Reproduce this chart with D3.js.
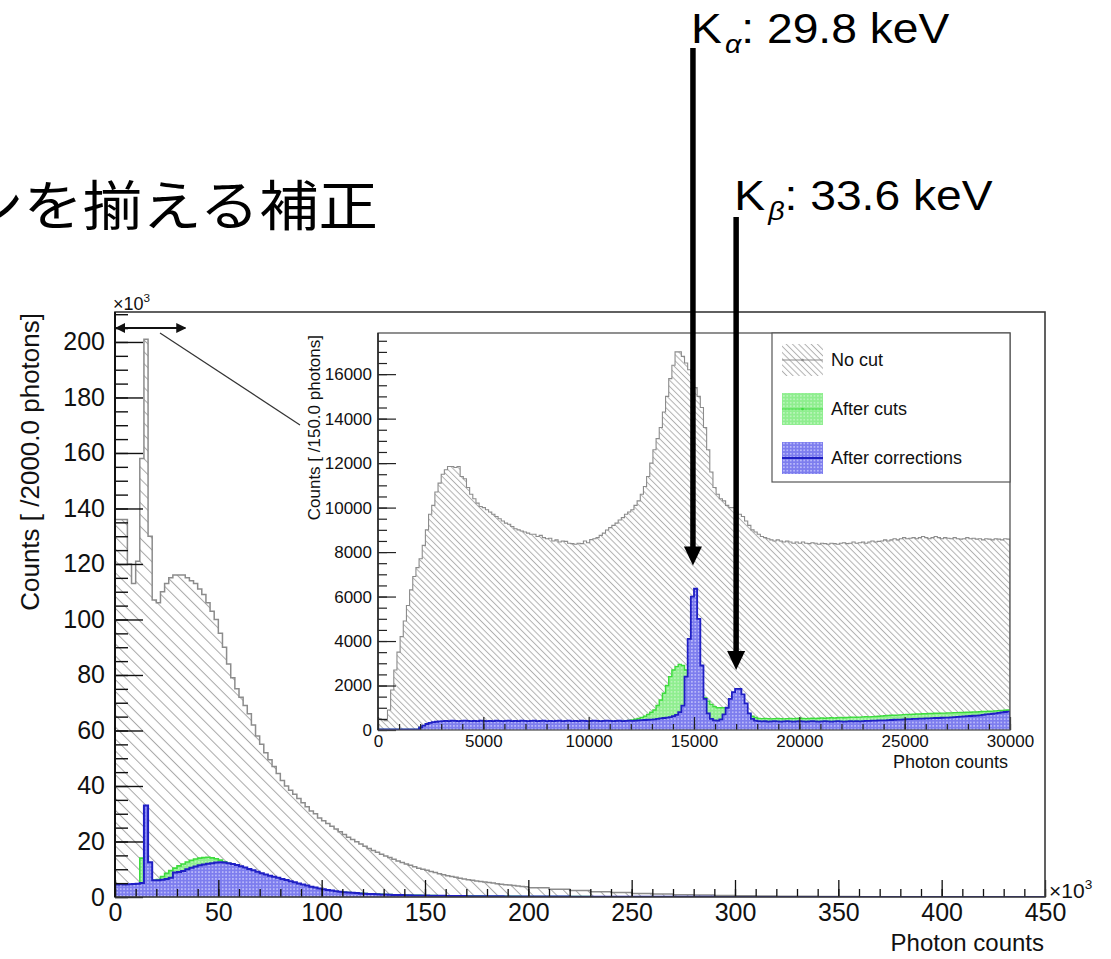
<!DOCTYPE html>
<html>
<head>
<meta charset="utf-8">
<script src="https://cdn.jsdelivr.net/npm/d3@7"></script>
<style>
  body { margin: 0; background: #fff; }
  svg { display: block; }
</style>
</head>
<body>
<svg id="chart" width="1111" height="959"></svg>
<script>
// ---- Daten ----
// Hauptplot: Bins zu 2000 Photonen (x in 10^3), 0-200k fein, 200-450k grob (10k)
const mainFineWidth = 2;
const mainNoCutFine = [
  136,136,136,120,113,121,158,201,130,107,
  106,110,113,115,116,116,116,115,114,113,
  111,109,106,103,100,95,90,84,79,75,
  72,69,66,62,58,55,52,49.5,47,44.5,
  42,40,38.5,37,35.5,34,32.5,31,30,28.5,
  27.5,26.5,25.5,24.5,23.5,22.5,21.5,20.7,19.9,19.1,
  18.3,17.5,16.8,16.1,15.4,14.8,14.2,13.6,13.0,12.4,
  11.9,11.4,10.9,10.4,10.0,9.6,9.2,8.8,8.4,8.0,
  7.7,7.4,7.1,6.8,6.5,6.2,6.0,5.8,5.6,5.4,
  5.2,5.0,4.8,4.6,4.4,4.3,4.1,4.0,3.8,3.7
];
const mainAfterCutsFine = [
  4.3,4.4,4.3,4.4,4.5,4.6,14,14.5,12,6,
  6.3,7.4,8.5,9.5,10.4,11.2,11.9,12.6,13.2,13.7,
  14.0,14.2,14.3,14.1,13.8,13.3,12.7,12.1,11.5,11.0,
  10.4,9.9,9.4,8.9,8.4,7.9,7.5,7.0,6.6,6.2,
  5.8,5.4,5.1,4.7,4.4,4.0,3.7,3.4,3.1,2.8,
  2.6,2.4,2.2,2.0,1.85,1.7,1.6,1.5,1.4,1.3,
  1.22,1.15,1.08,1.02,0.96,0.9,0.85,0.8,0.76,0.72,
  0.68,0.65,0.62,0.59,0.56,0.53,0.5,0.48,0.46,0.44,
  0.42,0.4,0.38,0.37,0.35,0.34,0.32,0.31,0.3,0.29,
  0.28,0.27,0.26,0.25,0.24,0.23,0.22,0.21,0.2,0.2
];
const mainAfterCorrFine = [
  4.5,4.6,4.5,4.6,4.7,4.8,5.0,33,12.5,6.0,
  6.0,6.2,6.5,6.9,8.8,9.0,9.4,10.0,10.5,11.0,
  11.4,11.7,12.0,12.2,12.4,12.5,12.4,12.2,11.9,11.5,
  11.1,10.6,10.1,9.6,9.1,8.6,8.1,7.7,7.3,6.9,
  6.5,6.1,5.7,5.3,4.9,4.5,4.1,3.7,3.4,3.1,
  2.8,2.5,2.3,2.1,1.9,1.75,1.6,1.5,1.4,1.3,
  1.2,1.12,1.05,0.98,0.92,0.86,0.81,0.76,0.72,0.68,
  0.64,0.61,0.58,0.55,0.52,0.5,0.47,0.45,0.43,0.41,
  0.39,0.37,0.36,0.34,0.33,0.31,0.3,0.29,0.28,0.27,
  0.26,0.25,0.24,0.23,0.22,0.21,0.2,0.2,0.19,0.18
];
const mainTailStart = 200;
const mainTailWidth = 10;
const mainNoCutTail = [3.3,2.8,2.3,1.9,1.6,1.3,1.05,0.85,0.7,0.55,0.45,0.37,0.3,0.25,0.2,0.16,0.13,0.11,0.09,0.07,0.06,0.05,0.04,0.035,0.03];
const mainAfterCutsTail = [0.18,0.15,0.13,0.11,0.09,0.08,0.07,0.06,0.05,0.045,0.04,0.035,0.03,0.025,0.02,0.02,0.015,0.015,0.01,0.01,0.01,0.01,0.01,0.01,0.01];
const mainAfterCorrTail = [0.17,0.14,0.12,0.1,0.09,0.08,0.07,0.06,0.05,0.04,0.035,0.03,0.025,0.02,0.02,0.015,0.015,0.01,0.01,0.01,0.01,0.01,0.01,0.01,0.01];

// Inset: Bins zu 150 Photonen, 0-30000
const insetWidth = 150;
const insetNoCut = [
  500,450,420,900,1800,2700,3500,4200,4900,5600,
  6300,6900,7300,7700,8300,9000,9700,10100,10700,11100,
  11500,11700,11850,11850,11800,11850,11400,11300,10900,10600,
  10400,10200,10050,10000,9900,9800,9700,9600,9500,9400,
  9300,9250,9150,9050,9000,8950,8900,8850,8800,8800,
  8700,8750,8650,8600,8620,8500,8550,8450,8500,8480,
  8400,8380,8350,8400,8380,8500,8420,8560,8600,8650,
  8750,8850,8990,9100,9200,9300,9440,9550,9700,9800,
  9900,10100,10300,10600,10950,11400,12000,12600,13100,13600,
  14300,15000,15800,16400,17000,17000,16800,16500,16200,15800,
  15400,15000,14500,13600,12600,11600,10900,10600,10400,10300,
  10100,10000,10000,9800,9700,9600,9400,9200,9000,8900,
  8800,8700,8650,8600,8550,8500,8550,8500,8450,8500,
  8450,8400,8450,8400,8450,8400,8380,8420,8400,8350,
  8400,8380,8350,8400,8380,8350,8400,8420,8380,8400,
  8450,8400,8420,8450,8400,8450,8500,8450,8480,8500,
  8550,8500,8550,8600,8550,8600,8650,8600,8620,8650,
  8600,8650,8700,8650,8600,8650,8700,8650,8600,8650,
  8620,8600,8650,8600,8580,8600,8650,8600,8620,8580,
  8600,8550,8600,8580,8550,8600,8580,8550,8600,8580
];
const insetAfterCuts = [
  30,30,30,30,30,30,30,30,30,30,
  30,30,30,110,180,250,300,330,350,360,
  370,380,370,360,370,380,370,360,375,380,
  370,365,375,380,370,360,370,380,375,370,
  365,375,380,370,360,370,380,370,365,375,
  380,370,360,370,380,375,370,365,375,380,
  370,360,370,380,375,370,365,375,380,390,
  380,390,400,390,400,410,400,410,420,430,
  450,480,520,560,620,700,800,900,1100,1350,
  1650,2000,2400,2700,2850,2950,2900,2700,2450,2200,
  1950,1750,1600,1450,1300,1150,1050,1000,1000,1000,
  950,950,1000,1050,1000,900,800,700,620,560,
  520,510,520,510,500,510,520,510,500,510,
  520,510,520,530,520,510,520,530,520,530,
  540,530,540,550,540,550,560,550,560,570,
  580,570,580,590,600,590,600,610,620,630,
  640,650,660,660,670,680,690,700,700,710,
  720,720,730,730,740,740,750,750,760,760,
  770,770,780,780,790,790,800,800,810,810,
  820,830,830,840,850,860,870,880,890,900
];
const insetAfterCorr = [
  30,30,30,30,30,30,30,30,30,30,
  30,30,30,120,200,270,320,350,370,390,
  400,410,400,420,410,400,410,420,410,400,
  410,400,420,410,400,410,400,420,410,400,
  410,420,400,410,400,420,410,400,410,420,
  400,410,420,400,410,400,410,420,400,410,
  420,400,410,400,420,410,400,410,420,410,
  400,410,420,410,400,410,420,400,410,420,
  410,420,430,440,450,460,470,480,500,520,
  540,560,580,620,680,800,1100,2400,4100,6000,
  6350,5000,2900,1400,750,500,430,420,480,700,
  1000,1400,1700,1850,1850,1600,1200,750,500,420,
  400,390,400,380,390,400,390,380,390,400,
  390,380,390,400,390,380,390,400,390,380,
  390,400,390,380,390,400,390,380,390,400,
  390,400,390,400,410,410,420,420,430,430,
  430,440,450,460,470,470,480,490,490,500,
  500,510,510,520,520,530,540,540,550,560,
  560,570,580,590,600,610,620,630,640,650,
  660,680,700,710,730,750,770,790,810,830
];

// Achsen-Ticks
const mainXTicks = [0,50,100,150,200,250,300,350,400,450];
const mainYTicks = [0,20,40,60,80,100,120,140,160,180,200];
const insetXTicks = [0,5000,10000,15000,20000,25000,30000];
const insetYTicks = [0,2000,4000,6000,8000,10000,12000,14000,16000];
const legendLabels = ["No cut", "After cuts", "After corrections"];

// Markierte Linien (Position im Inset)
const peakNames = ["α", "β"];
const peakEnergies = [": 29.8 keV", ": 33.6 keV"];
const peakPositions = [14950, 17000];
const peakTipCounts = [7400, 2700];

// ---- Aufbau ----
const font = "'Liberation Sans', Arial, Helvetica, sans-serif";
const svg = d3.select("#chart");
const defs = svg.append("defs");

const main = {left: 115, right: 1045, top: 312, bottom: 897};
const inset = {left: 378, right: 1010, top: 333, bottom: 730};

const x = d3.scaleLinear().domain([0, 450]).range([main.left, main.right]);
const y = d3.scaleLinear().domain([0, 210.8]).range([main.bottom, main.top]);
const xi = d3.scaleLinear().domain([0, 30000]).range([inset.left, inset.right]);
const yi = d3.scaleLinear().domain([0, 17850]).range([inset.bottom, inset.top]);

// Muster
function hatch(id, gap, color) {
  const p = defs.append("pattern").attr("id", id)
    .attr("patternUnits", "userSpaceOnUse")
    .attr("width", gap).attr("height", gap)
    .attr("patternTransform", "rotate(-45)");
  p.append("line").attr("x1", gap / 2).attr("y1", 0).attr("x2", gap / 2).attr("y2", gap)
    .attr("stroke", color).attr("stroke-width", 1);
}
function dots(id, bg, dot, size) {
  const p = defs.append("pattern").attr("id", id)
    .attr("patternUnits", "userSpaceOnUse")
    .attr("width", size).attr("height", size);
  p.append("rect").attr("width", size).attr("height", size).attr("fill", bg);
  p.append("circle").attr("cx", size / 2).attr("cy", size / 2).attr("r", size * 0.22).attr("fill", dot);
}
hatch("hatchMain", 8.4, "#a8a8a8");
hatch("hatchInset", 4.4, "#b0b0b0");
dots("dotsGreen", "#8fee8f", "#cdf7cd", 3.4);
dots("dotsBlue", "#7d7dee", "#d6d6ff", 3.4);

defs.append("clipPath").attr("id", "clipMain").append("rect")
  .attr("x", main.left).attr("y", main.top)
  .attr("width", main.right - main.left).attr("height", main.bottom - main.top);
defs.append("clipPath").attr("id", "clipInset").append("rect")
  .attr("x", inset.left).attr("y", inset.top)
  .attr("width", inset.right - inset.left).attr("height", inset.bottom - inset.top);

// Bins -> Treppenpunkte
function makeBins(values, start, width) {
  return values.map((v, i) => ({x0: start + i * width, x1: start + (i + 1) * width, v}));
}
function stepPoints(bins) {
  const pts = [[bins[0].x0, 0]];
  bins.forEach(b => { pts.push([b.x0, b.v]); pts.push([b.x1, b.v]); });
  pts.push([bins[bins.length - 1].x1, 0]);
  return pts;
}
function drawHist(g, bins, xs, ys, fill, stroke, sw) {
  const pts = stepPoints(bins);
  g.append("path").datum(pts)
    .attr("d", d3.area().x(d => xs(d[0])).y0(ys(0)).y1(d => ys(d[1])))
    .attr("fill", fill);
  g.append("path").datum(pts)
    .attr("d", d3.line().x(d => xs(d[0])).y(d => ys(d[1])))
    .attr("fill", "none").attr("stroke", stroke).attr("stroke-width", sw)
    .attr("stroke-linejoin", "miter");
}

const series = [
  {fine: mainNoCutFine, tail: mainNoCutTail, inset: insetNoCut,
   fillMain: "url(#hatchMain)", fillInset: "url(#hatchInset)", stroke: "#8c8c8c", swMain: 1.5, swInset: 1.1},
  {fine: mainAfterCutsFine, tail: mainAfterCutsTail, inset: insetAfterCuts,
   fillMain: "url(#dotsGreen)", fillInset: "url(#dotsGreen)", stroke: "#3ddc3d", swMain: 1.6, swInset: 1.4},
  {fine: mainAfterCorrFine, tail: mainAfterCorrTail, inset: insetAfterCorr,
   fillMain: "url(#dotsBlue)", fillInset: "url(#dotsBlue)", stroke: "#1f1fc4", swMain: 2, swInset: 1.8}
];

// Titel (links abgeschnitten wie im Original)
svg.append("g").attr("transform", "translate(-36,226) scale(1.1,1)")
  .append("text")
  .attr("font-family", "'Noto Sans CJK JP', sans-serif")
  .attr("font-size", 54).attr("fill", "#000")
  .text("ンを揃える補正");

// Hauptplot
const gMain = svg.append("g").attr("clip-path", "url(#clipMain)");
series.forEach(s => {
  const bins = makeBins(s.fine, 0, mainFineWidth)
    .concat(makeBins(s.tail, mainTailStart, mainTailWidth));
  drawHist(gMain, bins, x, y, s.fillMain, s.stroke, s.swMain);
});

function styleAxis(g, size, color, sw) {
  g.select(".domain").remove();
  g.selectAll("line").attr("stroke", color).attr("stroke-width", sw);
  g.selectAll("text").attr("font-family", font).attr("font-size", size).attr("fill", "#111");
}

// Y-Achse Hauptplot
const gyMinor = svg.append("g").attr("transform", `translate(${main.left},0)`)
  .call(d3.axisLeft(y).tickValues(d3.range(0, 211, 5)).tickSize(-13).tickFormat(""));
styleAxis(gyMinor, 25, "#111", 1.4);
const gyMajor = svg.append("g").attr("transform", `translate(${main.left},0)`)
  .call(d3.axisLeft(y).tickValues(mainYTicks).tickSize(-28).tickPadding(10).tickFormat(d3.format("d")));
styleAxis(gyMajor, 25, "#111", 1.4);

// X-Achse Hauptplot
const gxMinor = svg.append("g").attr("transform", `translate(0,${main.bottom})`)
  .call(d3.axisBottom(x).tickValues(d3.range(0, 451, 10)).tickSize(-8).tickFormat(""));
styleAxis(gxMinor, 25, "#111", 1.3);
const gxMajor = svg.append("g").attr("transform", `translate(0,${main.bottom})`)
  .call(d3.axisBottom(x).tickValues(mainXTicks).tickSize(-17).tickPadding(6).tickFormat(d3.format("d")));
styleAxis(gxMajor, 25, "#111", 1.3);

svg.append("rect")
  .attr("x", main.left).attr("y", main.top)
  .attr("width", main.right - main.left).attr("height", main.bottom - main.top)
  .attr("fill", "none").attr("stroke", "#3a3a3a").attr("stroke-width", 1.6);
svg.append("line").attr("x1", main.left).attr("x2", main.left)
  .attr("y1", main.top).attr("y2", main.bottom).attr("stroke", "#111").attr("stroke-width", 2);

// Achsentitel Hauptplot
svg.append("text").attr("transform", "translate(39,313) rotate(-90)")
  .attr("text-anchor", "end").attr("font-family", font).attr("font-size", 26).attr("fill", "#111")
  .text("Counts [ /2000.0 photons]");
svg.append("text").attr("x", main.right - 1).attr("y", 951)
  .attr("text-anchor", "end").attr("font-family", font).attr("font-size", 24).attr("fill", "#111")
  .text("Photon counts");

function times10(xp, yp, size) {
  const t = svg.append("text").attr("x", xp).attr("y", yp)
    .attr("font-family", font).attr("font-size", size).attr("fill", "#111");
  t.append("tspan").text("×10");
  t.append("tspan").attr("dy", -size * 0.45).attr("font-size", size * 0.65).text("3");
}
times10(113, 310, 18);
times10(1049, 898, 21);

// Inset-Hintergrund
svg.append("rect").attr("x", 296).attr("y", 320).attr("width", 734).attr("height", 465).attr("fill", "#fff");

const gIn = svg.append("g").attr("clip-path", "url(#clipInset)");
series.forEach(s => {
  drawHist(gIn, makeBins(s.inset, 0, insetWidth), xi, yi, s.fillInset, s.stroke, s.swInset);
});

const giyMinor = svg.append("g").attr("transform", `translate(${inset.left},0)`)
  .call(d3.axisLeft(yi).tickValues(d3.range(0, 17851, 500)).tickSize(-9).tickFormat(""));
styleAxis(giyMinor, 17, "#222", 1.2);
const giyMajor = svg.append("g").attr("transform", `translate(${inset.left},0)`)
  .call(d3.axisLeft(yi).tickValues(insetYTicks).tickSize(-18).tickPadding(6).tickFormat(d3.format("d")));
styleAxis(giyMajor, 17, "#222", 1.2);
const gixMinor = svg.append("g").attr("transform", `translate(0,${inset.bottom})`)
  .call(d3.axisBottom(xi).tickValues(d3.range(0, 30001, 1000)).tickSize(-6).tickFormat(""));
styleAxis(gixMinor, 17, "#222", 1.2);
const gixMajor = svg.append("g").attr("transform", `translate(0,${inset.bottom})`)
  .call(d3.axisBottom(xi).tickValues(insetXTicks).tickSize(-13).tickPadding(5).tickFormat(d3.format("d")));
styleAxis(gixMajor, 17, "#222", 1.2);

svg.append("rect")
  .attr("x", inset.left).attr("y", inset.top)
  .attr("width", inset.right - inset.left).attr("height", inset.bottom - inset.top)
  .attr("fill", "none").attr("stroke", "#555").attr("stroke-width", 1.3);
svg.append("line").attr("x1", inset.left).attr("x2", inset.left)
  .attr("y1", inset.top).attr("y2", inset.bottom).attr("stroke", "#222").attr("stroke-width", 1.5);

svg.append("text").attr("transform", "translate(320,335) rotate(-90)")
  .attr("text-anchor", "end").attr("font-family", font).attr("font-size", 17).attr("fill", "#111")
  .text("Counts [ /150.0 photons]");
svg.append("text").attr("x", inset.right - 2).attr("y", 768)
  .attr("text-anchor", "end").attr("font-family", font).attr("font-size", 18).attr("fill", "#111")
  .text("Photon counts");

// Legende
const leg = svg.append("g").attr("transform", "translate(772,333)");
leg.append("rect").attr("width", 238).attr("height", 149)
  .attr("fill", "#fff").attr("stroke", "#555").attr("stroke-width", 1.2);
legendLabels.forEach((label, i) => {
  const s = series[i];
  const cy = 27 + i * 49;
  leg.append("rect").attr("x", 10).attr("y", cy - 16).attr("width", 41).attr("height", 32)
    .attr("fill", s.fillInset);
  leg.append("line").attr("x1", 10).attr("x2", 51).attr("y1", cy).attr("y2", cy)
    .attr("stroke", s.stroke).attr("stroke-width", i === 2 ? 2 : 1.2);
  leg.append("circle").attr("cx", 30.5).attr("cy", cy).attr("r", 1.3).attr("fill", s.stroke);
  leg.append("text").attr("x", 59).attr("y", cy).attr("dy", "0.35em")
    .attr("font-family", font).attr("font-size", 18).attr("fill", "#111")
    .text(label);
});

// Zoom-Pfeil und Verbindungslinie
defs.append("marker").attr("id", "headSmall").attr("viewBox", "0 0 10 10")
  .attr("refX", 9).attr("refY", 5).attr("markerWidth", 5).attr("markerHeight", 5)
  .attr("orient", "auto-start-reverse")
  .append("path").attr("d", "M0,0 L10,5 L0,10 Z").attr("fill", "#111");
svg.append("line").attr("x1", x(0) + 1).attr("x2", x(34)).attr("y1", 328).attr("y2", 328)
  .attr("stroke", "#111").attr("stroke-width", 2)
  .attr("marker-start", "url(#headSmall)").attr("marker-end", "url(#headSmall)");
svg.append("line").attr("x1", 160).attr("y1", 333).attr("x2", 300).attr("y2", 425)
  .attr("stroke", "#333").attr("stroke-width", 1.2);

// K-Linien: Pfeile und Beschriftungen
const labelBaselines = [43, 210];
const lineTops = [48, 217];
peakNames.forEach((name, i) => {
  const px = xi(peakPositions[i]);
  const tip = yi(peakTipCounts[i]);
  svg.append("line").attr("x1", px).attr("x2", px)
    .attr("y1", lineTops[i]).attr("y2", tip - 16)
    .attr("stroke", "#000").attr("stroke-width", 5.5);
  svg.append("path")
    .attr("d", `M${px - 9},${tip - 19} L${px + 9},${tip - 19} L${px},${tip} Z`)
    .attr("fill", "#000");
  const t = svg.append("g").attr("transform", `translate(${px - 2},${labelBaselines[i]}) scale(1.1,1)`)
    .append("text").attr("font-family", font).attr("font-size", 42).attr("fill", "#000");
  t.append("tspan").text("K");
  t.append("tspan").attr("dx", 3).attr("dy", 10).attr("font-size", 26).attr("font-style", "italic").text(name);
  t.append("tspan").attr("dy", -10).text(peakEnergies[i]);
});
</script>
</body>
</html>
